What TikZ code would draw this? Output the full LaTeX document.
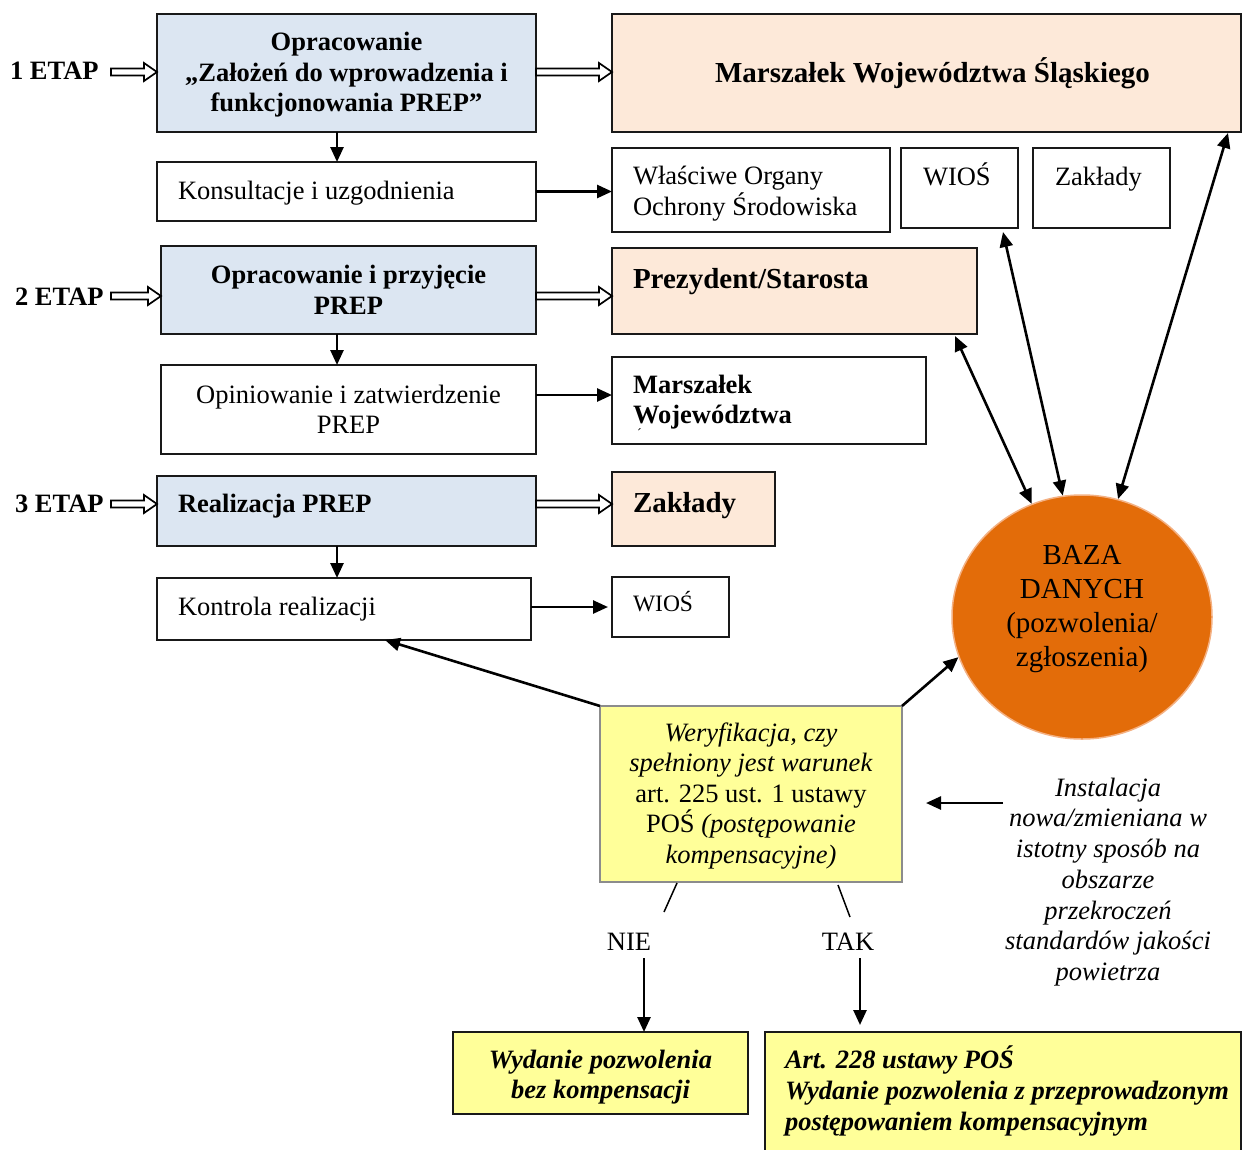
\documentclass[tikz,border=0pt]{standalone}
\usepackage{fontspec}
\setmainfont{Liberation Serif}
\usetikzlibrary{arrows.meta,calc,shapes.geometric}
\definecolor{bluef}{HTML}{DCE6F2}
\definecolor{peachf}{HTML}{FDE9D9}
\definecolor{yelf}{HTML}{FFFF99}
\definecolor{orf}{HTML}{E36C09}
\definecolor{ord}{HTML}{F4B183}
\definecolor{grayd}{HTML}{8C8C8C}
\newcommand{\fs}{\fontsize{26.5}{30.5}\selectfont}
\newcommand{\fl}{\fontsize{29}{34}\selectfont}
\newcommand{\holarr}[2]{\draw[hol] ($(#1)+(0,3.5)$) -- ($(#2)+(-13,3.5)$) -- ($(#2)+(-13,9)$) -- (#2) -- ($(#2)+(-13,-9)$) -- ($(#2)+(-13,-3.5)$) -- ($(#1)+(0,-3.5)$) -- cycle;}
\tikzset{
  bx/.style={draw=black!90, line width=1.9pt, anchor=north west, inner sep=0pt, outer sep=0pt, font=\fs, align=center},
  txt/.style={inner sep=0pt, outer sep=0pt, font=\fs},
  arr/.style={line width=2.6pt, -{Triangle[length=15pt,width=13pt]}},
  darr/.style={line width=2.6pt, {Triangle[length=15pt,width=13pt]}-{Triangle[length=15pt,width=13pt]}},
  hol/.style={draw, fill=white, line width=1.7pt, line join=miter},
  thin/.style={line width=1.5pt},
}
\begin{document}
\begin{tikzpicture}[x=1pt,y=-1pt]
\useasboundingbox (0,0) rectangle (1242,1149);
\clip (0,0) rectangle (1242,1149);
\fill[white] (0,0) rectangle (1242,1149);

% ---- row 1
\node[bx, fill=bluef, minimum width=379pt, minimum height=118pt] (a1) at (157,14) {};
\node[txt, align=center] (a1t) at (346.5,75)
  {\bfseries Opracowanie\\\bfseries „Założeń do wprowadzenia i\\\bfseries funkcjonowania PREP”};
\node[bx, fill=peachf, minimum width=629pt, minimum height=118pt, font=\fl] (msl) at (612,14)
  {\hspace*{12pt}\bfseries Marszałek Województwa Śląskiego};
\node[bx, minimum width=379pt, minimum height=59pt] (kons) at (157,162) {};
\node[txt, anchor=base west] (konst) at (178,199) {Konsultacje i uzgodnienia};
\node[bx, minimum width=278pt, minimum height=84pt] (woos) at (612,148) {};
\node[txt, anchor=base west] (woost1) at (633,184) {Właściwe Organy};
\node[txt, anchor=base west] (woost2) at (633,215) {Ochrony Środowiska};
\node[bx, minimum width=117pt, minimum height=80pt] (wios1) at (901,148) {};
\node[txt, anchor=base west] (wios1t) at (923,185) {WIOŚ};
\node[bx, minimum width=137pt, minimum height=80pt] (zak1) at (1033,148) {};
\node[txt, anchor=base west] (zak1t) at (1055,185) {Zakłady};
\node[txt, anchor=base west, font=\fs\bfseries] (e1) at (10,79) {1 ETAP};

% ---- row 2
\node[bx, fill=bluef, minimum width=375pt, minimum height=88pt] (a2) at (161,246)
  {\bfseries Opracowanie i przyjęcie\\\bfseries PREP};
\node[bx, fill=peachf, minimum width=365pt, minimum height=86pt] (prez) at (612,248) {};
\node[txt, anchor=base west, font=\fl\bfseries] (prezt) at (633,288) {Prezydent/Starosta};
\node[bx, minimum width=375pt, minimum height=89pt] (opin) at (161,365)
  {Opiniowanie i zatwierdzenie\\PREP};
\node[bx, minimum width=314pt, minimum height=87pt] (mwoj) at (612,357) {};
\node[txt, anchor=base west, font=\fs\bfseries] (mwojt1) at (633,393) {Marszałek};
\node[txt, anchor=base west, font=\fs\bfseries] (mwojt2) at (633,423) {Województwa};
\node[txt, anchor=base west, font=\fontsize{14}{14}\selectfont] (acc) at (637,438) {´};
\node[txt, anchor=base west, font=\fs\bfseries] (e2) at (15,305) {2 ETAP};

% ---- row 3
\node[bx, fill=bluef, minimum width=379pt, minimum height=70pt] (a3) at (157,476) {};
\node[txt, anchor=base west, font=\fs\bfseries] (a3t) at (178,512) {Realizacja PREP};
\node[bx, fill=peachf, minimum width=163pt, minimum height=74pt] (zak2) at (612,472) {};
\node[txt, anchor=base west, font=\fl\bfseries] (zak2t) at (633,512) {Zakłady};
\node[bx, minimum width=374pt, minimum height=62pt] (kont) at (157,578) {};
\node[txt, anchor=base west] (kontt) at (178,615) {Kontrola realizacji};
\node[bx, minimum width=117pt, minimum height=60pt] (wios2) at (612,577) {};
\node[txt, anchor=base west, font=\fontsize{23.5}{27}\selectfont] (wios2t) at (633,611) {WIOŚ};
\node[txt, anchor=base west, font=\fs\bfseries] (e3) at (15,512) {3 ETAP};

% ---- database
\node[ellipse, draw=ord, line width=1.5pt, fill=orf, minimum width=260pt, minimum height=244pt, inner sep=0pt] (baza) at (1082,617) {};
\node[txt, font=\fl, align=center] (bazat) at (1082,609) {BAZA\\DANYCH\\(pozwolenia/\\zgłoszenia)};

% ---- verification
\node[bx, draw=grayd, line width=1.5pt, fill=yelf, minimum width=302pt, minimum height=176pt] (wer) at (600,706) {};
\node[txt, align=center] (wert) at (751,796)
  {\textit{Weryfikacja, czy}\\\textit{spełniony jest warunek}\\art. 225 ust. 1 ustawy\\POŚ \textit{(postępowanie}\\\textit{kompensacyjne)}};
\node[txt, align=center, font=\fontsize{26.5}{30.7}\selectfont] (inst) at (1108,882)
  {\textit{Instalacja}\\\textit{nowa/zmieniana w}\\\textit{istotny sposób na}\\\textit{obszarze}\\\textit{przekroczeń}\\\textit{standardów jakości}\\\textit{powietrza}};
\node[txt] (nie) at (629,942) {NIE};
\node[txt] (tak) at (848,942) {TAK};
\node[bx, fill=yelf, minimum width=295pt, minimum height=82pt] (bez) at (453,1032) {};
\node[txt, align=center] (bezt) at (600.5,1077)
  {\bfseries\itshape Wydanie pozwolenia\\\bfseries\itshape bez kompensacji};
\node[bx, fill=yelf, minimum width=476pt, minimum height=140pt] (art) at (765,1032) {};
\node[txt, anchor=base west, font=\fs\bfseries\itshape] (artt1) at (785,1068) {Art. 228 ustawy POŚ};
\node[txt, anchor=base west, font=\fs\bfseries\itshape] (artt2) at (785,1099) {Wydanie pozwolenia z przeprowadzonym};
\node[txt, anchor=base west, font=\fs\bfseries\itshape] (artt3) at (785,1130) {postępowaniem kompensacyjnym};

% ---- coordinates
\coordinate (r1) at (0,72);
\coordinate (r2) at (0,296);
\coordinate (r3) at (0,504);
\coordinate (r5) at (0,395);
\coordinate (cx) at (337,0);
\coordinate (h1a) at (111,72);
\coordinate (h2a) at (111,296);
\coordinate (h3a) at (111,504);
\coordinate (h1b) at (a1.west |- r1);
\coordinate (h2b) at (a2.west |- r2);
\coordinate (h3b) at (a3.west |- r3);
\coordinate (g1a) at (a1.east |- r1);
\coordinate (g1b) at (msl.west |- r1);
\coordinate (g2a) at (a2.east |- r2);
\coordinate (g2b) at (prez.west |- r2);
\coordinate (g3a) at (a3.east |- r3);
\coordinate (g3b) at (zak2.west |- r3);
\coordinate (ia) at (1003,803);
\coordinate (ib) at (926,803);
\coordinate (n1) at (677,883);
\coordinate (n2) at (664,912);
\coordinate (n3) at (644,958);
\coordinate (t1) at (838,885);
\coordinate (t2) at (850,917);
\coordinate (t3) at (860,958);
\coordinate (t4) at (860,1025);

% ---- hollow arrows
\holarr{h1a}{h1b}
\holarr{h2a}{h2b}
\holarr{h3a}{h3b}
\holarr{g1a}{g1b}
\holarr{g2a}{g2b}
\holarr{g3a}{g3b}

% ---- filled arrows
\draw[arr] (a1.south -| cx) -- (kons.north -| cx);
\draw[arr] (a2.south -| cx) -- (opin.north -| cx);
\draw[arr] (a3.south -| cx) -- (kont.north -| cx);
\draw[arr] (kons.east) -- (woos.west |- kons.east);
\draw[arr] (opin.east |- r5) -- (mwoj.west |- r5);
\draw[arr] (kont.east |- wios2.west) -- ([xshift=-4pt]wios2.west);
\draw[darr] ([xshift=-22pt,yshift=-2pt]prez.south east) -- (baza.114);
\draw[darr] ([xshift=-15pt,yshift=-4pt]wios1.south east) -- (baza.99);
\draw[darr] ([xshift=-13pt,yshift=-1pt]msl.south east) -- (baza.73);
\draw[arr] (wer.north east) -- (baza.198);
\draw[arr] (wer.north west) -- ([xshift=41pt]kont.south);
\draw[arr] (ia) -- (ib);
\draw[thin] (n1) -- (n2);
\draw[thin] (t1) -- (t2);
\draw[arr] (n3) -- (n3 |- bez.north);
\draw[arr] (t3) -- (t4);
\end{tikzpicture}
\end{document}
